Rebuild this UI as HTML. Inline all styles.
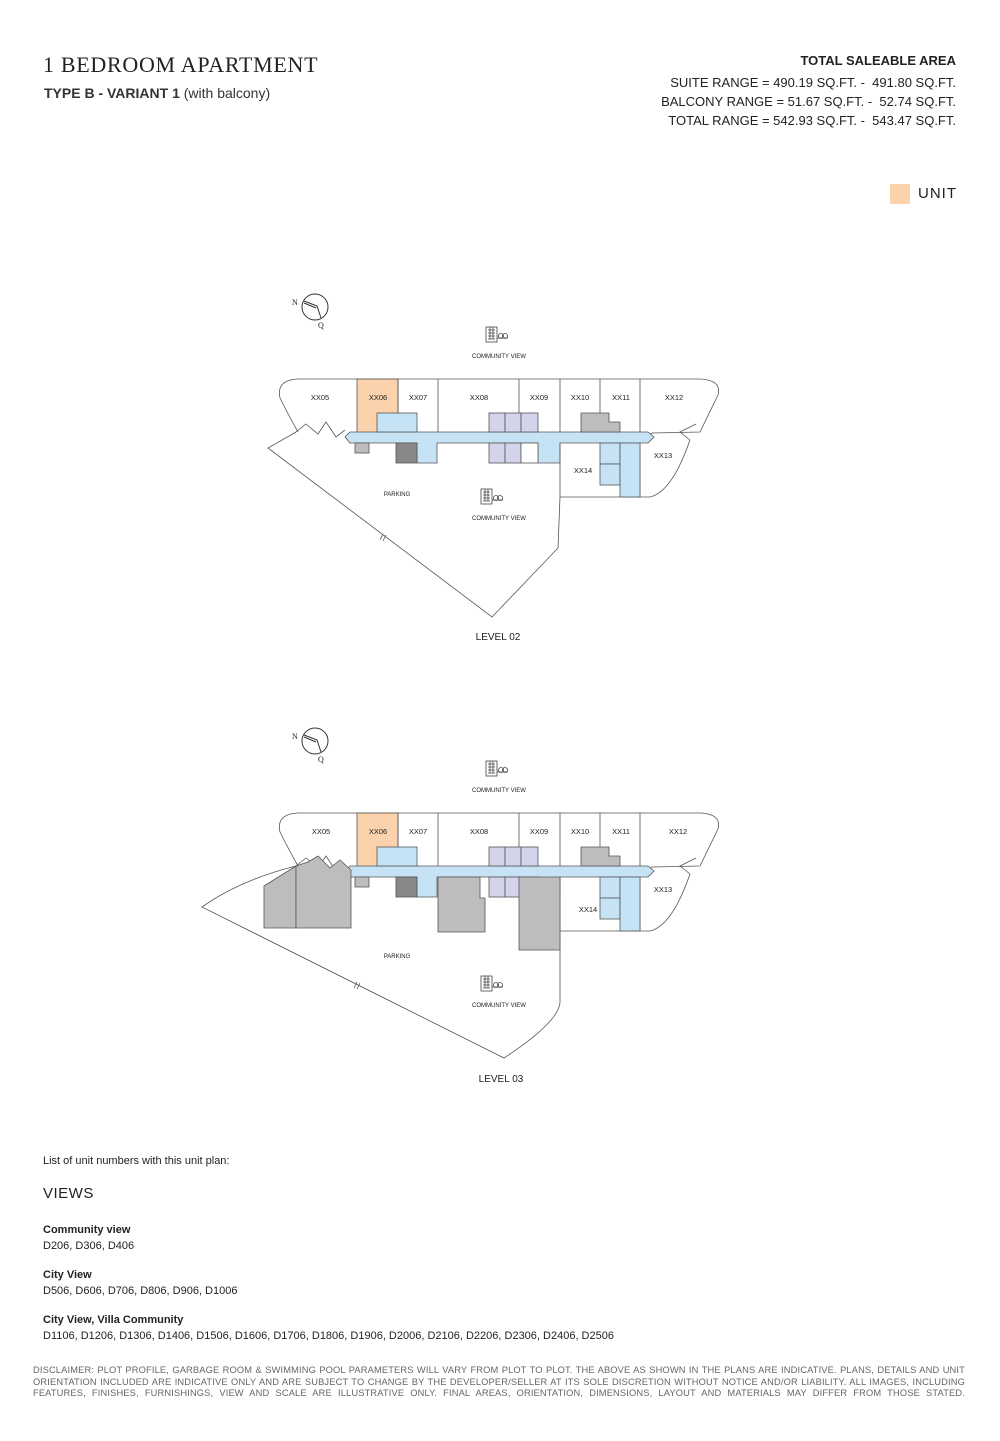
<!DOCTYPE html>
<html><head><meta charset="utf-8"><style>
body{margin:0;background:#fff;}
#p{position:relative;width:1000px;height:1441px;font-family:"Liberation Sans",sans-serif;color:#222;overflow:hidden}
.a{position:absolute;white-space:nowrap}
</style></head><body><div id="p">
<div class="a" style="left:43px;top:52px;font-family:'Liberation Serif',serif;font-size:22px;letter-spacing:0.7px">1 BEDROOM APARTMENT</div>
<div class="a" style="left:44px;top:85px;font-size:14px;font-weight:bold;color:#333">TYPE B - VARIANT 1 <span style="font-weight:normal">(with balcony)</span></div>
<div class="a" style="right:44px;top:53px;font-size:13px;font-weight:bold;text-align:right">TOTAL SALEABLE AREA</div>
<div class="a" style="right:44px;top:73px;font-size:13px;text-align:right;line-height:19px">SUITE RANGE = 490.19 SQ.FT. -&nbsp; 491.80 SQ.FT.<br>BALCONY RANGE = 51.67 SQ.FT. -&nbsp; 52.74 SQ.FT.<br>TOTAL RANGE = 542.93 SQ.FT. -&nbsp; 543.47 SQ.FT.</div>
<div class="a" style="left:890px;top:184px;width:20px;height:20px;background:#fbd2ac"></div>
<div class="a" style="left:918px;top:185px;font-size:15px;letter-spacing:1px">UNIT</div>

<svg class="a" style="left:0;top:0" width="1000" height="1441" font-family="Liberation Sans, sans-serif">
<defs>
<g id="bld" stroke="#555" stroke-width="0.8">
<path d="M298,379 H700 Q722,380 718,395 L700,432 L652,433 L640,440 L640,497 L650,497 Q672,492 690,440" fill="#fff"/>
<path d="M298,379 Q276,380 280,398 Q290,418 298,432" fill="none"/>
<rect x="357" y="379" width="41" height="54" fill="#fbd2ac"/>
<path d="M398,379 V413 M438,379 V433 M519,379 V413 M560,379 V433 M600,379 V413 M640,379 V433" fill="none"/>
<path d="M296,432 L306,424 L318,434 L326,422 L336,437 L345,430" fill="none"/>
<path d="M690,440 L680,432 L696,424" fill="none"/>
<path d="M345,437 L350,432 H648 L654,437 L648,443 H560 V463 H538 V443 H437 V463 H417 V443 H350 Z" fill="#c5e3f5"/>
<rect x="377" y="413" width="40" height="19" fill="#c5e3f5"/>
<rect x="489" y="413" width="16" height="19" fill="#d3d3ec"/><rect x="505" y="413" width="16" height="19" fill="#d3d3ec"/><rect x="521" y="413" width="17" height="19" fill="#d3d3ec"/>
<rect x="489" y="443" width="16" height="20" fill="#d3d3ec"/><rect x="505" y="443" width="16" height="20" fill="#d3d3ec"/><rect x="521" y="443" width="17" height="20" fill="#fff"/>
<path d="M581,413 H609 V422 H620 V432 H581 Z" fill="#bdbdbd"/>
<rect x="355" y="443" width="14" height="10" fill="#bdbdbd"/>
<rect x="396" y="443" width="21" height="20" fill="#888"/>
<path d="M560,443 V497 H640" fill="none"/>
<rect x="600" y="443" width="20" height="21" fill="#c5e3f5"/><rect x="600" y="464" width="20" height="21" fill="#c5e3f5"/>
<rect x="620" y="443" width="20" height="54" fill="#c5e3f5"/>
</g>
<g id="ico" stroke="#444" stroke-width="0.8" fill="none">
<rect x="-12" y="-16" width="11" height="15"/><path d="M-10,-13h7M-10,-10h7M-10,-7h7M-10,-4h7M-8,-16v12M-5,-16v12M-1,-5h11"/><circle cx="3" cy="-7" r="2.5"/><circle cx="7" cy="-7" r="2.5"/>
</g>
<g id="cmp" stroke="#333" stroke-width="1" fill="none"><circle cx="0" cy="0" r="13"/><path d="M-11,-6 L2,-1 L6,11 M-11,-4 L1,1"/></g>
</defs>
<g font-size="7.5" fill="#222">
<use href="#cmp" x="315" y="307"/><text x="292" y="305" font-family="Liberation Serif" font-size="8">N</text><text x="318" y="328" font-family="Liberation Serif" font-size="8">Q</text>
<use href="#ico" x="498" y="343"/><text x="499" y="358" text-anchor="middle" font-size="6">COMMUNITY VIEW</text>
<path d="M296,432 L268,448 L492,617 L558,548 L560,497" fill="none" stroke="#555" stroke-width="0.8"/>
<path d="M380,540 l3,-6 M383,541 l3,-6" stroke="#555" stroke-width="0.8"/>
<use href="#bld"/>
<text x="320" y="400" text-anchor="middle">XX05</text><text x="378" y="400" text-anchor="middle">XX06</text><text x="418" y="400" text-anchor="middle">XX07</text><text x="479" y="400" text-anchor="middle">XX08</text><text x="539" y="400" text-anchor="middle">XX09</text><text x="580" y="400" text-anchor="middle">XX10</text><text x="621" y="400" text-anchor="middle">XX11</text><text x="674" y="400" text-anchor="middle">XX12</text>
<text x="663" y="458" text-anchor="middle">XX13</text><text x="583" y="473" text-anchor="middle">XX14</text>
<text x="397" y="496" text-anchor="middle" font-size="6">PARKING</text>
<use href="#ico" x="493" y="505"/><text x="499" y="520" text-anchor="middle" font-size="6">COMMUNITY VIEW</text>
<text x="498" y="640" text-anchor="middle" font-size="10">LEVEL 02</text>
<use href="#cmp" x="315" y="741"/><text x="292" y="739" font-family="Liberation Serif" font-size="8">N</text><text x="318" y="762" font-family="Liberation Serif" font-size="8">Q</text>
<use href="#ico" x="498" y="777"/><text x="499" y="792" text-anchor="middle" font-size="6">COMMUNITY VIEW</text>
<path d="M296,866 Q240,880 202,907 L504,1058 Q562,1020 560,1000 L560,931" fill="none" stroke="#555" stroke-width="0.8"/>
<path d="M354,988 l3,-6 M357,989 l3,-6" stroke="#555" stroke-width="0.8"/>
<g transform="translate(0,434)"><use href="#bld"/></g>
<path d="M264,886 L296,866 V928 H264 Z" fill="#bdbdbd" stroke="#555" stroke-width="0.8"/>
<path d="M296,866 L308,862 L318,856 L330,868 L340,860 L351,870 V928 H296 Z" fill="#bdbdbd" stroke="#555" stroke-width="0.8"/>
<path d="M438,877 H480 V898 H485 V932 H438 Z" fill="#bdbdbd" stroke="#555" stroke-width="0.8"/>
<path d="M519,877 H560 V950 H519 Z" fill="#bdbdbd" stroke="#555" stroke-width="0.8"/>
<text x="321" y="834" text-anchor="middle">XX05</text><text x="378" y="834" text-anchor="middle">XX06</text><text x="418" y="834" text-anchor="middle">XX07</text><text x="479" y="834" text-anchor="middle">XX08</text><text x="539" y="834" text-anchor="middle">XX09</text><text x="580" y="834" text-anchor="middle">XX10</text><text x="621" y="834" text-anchor="middle">XX11</text><text x="678" y="834" text-anchor="middle">XX12</text>
<text x="663" y="892" text-anchor="middle">XX13</text><text x="588" y="912" text-anchor="middle">XX14</text>
<text x="397" y="958" text-anchor="middle" font-size="6">PARKING</text>
<use href="#ico" x="493" y="992"/><text x="499" y="1007" text-anchor="middle" font-size="6">COMMUNITY VIEW</text>
<text x="501" y="1082" text-anchor="middle" font-size="10">LEVEL 03</text>
</g>
</svg>

<div class="a" style="left:43px;top:1155px;font-size:11px">List of unit numbers with this unit plan:</div>
<div class="a" style="left:43px;top:1185px;font-size:15px;letter-spacing:0.5px">VIEWS</div>
<div class="a" style="left:43px;top:1222px;font-size:11px;line-height:16px"><b>Community view</b><br>D206, D306, D406</div>
<div class="a" style="left:43px;top:1267px;font-size:11px;line-height:16px"><b>City View</b><br>D506, D606, D706, D806, D906, D1006</div>
<div class="a" style="left:43px;top:1312px;font-size:11px;line-height:16px"><b>City View, Villa Community</b><br>D1106, D1206, D1306, D1406, D1506, D1606, D1706, D1806, D1906, D2006, D2106, D2206, D2306, D2406, D2506</div>
<div class="a" style="left:33px;top:1365px;width:932px;font-size:9.3px;letter-spacing:0.15px;line-height:11.5px;color:#666;text-align:justify;white-space:normal;text-align-last:justify">DISCLAIMER: PLOT PROFILE, GARBAGE ROOM &amp; SWIMMING POOL PARAMETERS WILL VARY FROM PLOT TO PLOT. THE ABOVE AS SHOWN IN THE PLANS ARE INDICATIVE. PLANS, DETAILS AND UNIT ORIENTATION INCLUDED ARE INDICATIVE ONLY AND ARE SUBJECT TO CHANGE BY THE DEVELOPER/SELLER AT ITS SOLE DISCRETION WITHOUT NOTICE AND/OR LIABILITY. ALL IMAGES, INCLUDING FEATURES, FINISHES, FURNISHINGS, VIEW AND SCALE ARE ILLUSTRATIVE ONLY. FINAL AREAS, ORIENTATION, DIMENSIONS, LAYOUT AND MATERIALS MAY DIFFER FROM THOSE STATED.</div>
</div></body></html>
